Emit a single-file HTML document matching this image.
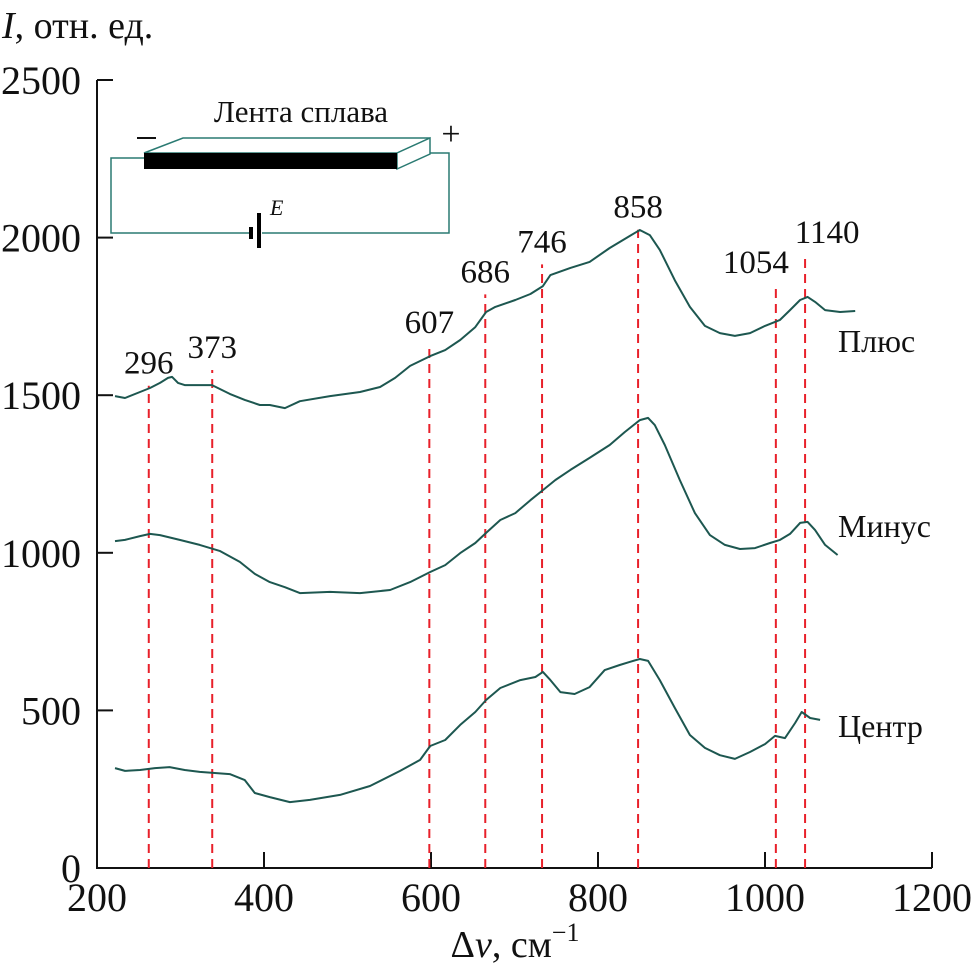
<!DOCTYPE html>
<html><head><meta charset="utf-8"><style>
body{margin:0;background:#fff;}
svg{display:block;font-family:"Liberation Serif",serif;}
</style></head><body>
<svg width="972" height="976" viewBox="0 0 972 976">
<g id="axes"></g>
<g id="peaks"></g>
<g id="series"></g>
<g id="inset">
  <text x="301" y="122" font-size="31" text-anchor="middle" fill="#111">Лента сплава</text>
  <polyline points="144,158 111,158 111,233 250,233" fill="none" stroke="#2a7a72" stroke-width="1.5"/>
  <polyline points="262,233 449,233 449,153 430,153" fill="none" stroke="#2a7a72" stroke-width="1.5"/>
  <polygon points="144,153 183,138 430,138 397,153" fill="#fff" stroke="#2a7a72" stroke-width="1.5"/>
  <polygon points="397,153 430,138 430,154 397,169" fill="#fff" stroke="#2a7a72" stroke-width="1.5"/>
  <rect x="144" y="153" width="253" height="16" fill="#000"/>
  <rect x="249" y="227" width="4" height="12" fill="#000"/>
  <rect x="257" y="213" width="4" height="35" fill="#000"/>
  <text x="270" y="215" font-size="22" font-style="italic" fill="#111">E</text>
  <line x1="137" y1="138" x2="156" y2="138" stroke="#111" stroke-width="2"/>
  <text x="451" y="145" font-size="34" text-anchor="middle" fill="#111">+</text>
</g>
<text x="2" y="38" font-size="38" fill="#111"><tspan font-style="italic">I</tspan>, отн. ед.</text>
<text x="515" y="957" font-size="38" text-anchor="middle" fill="#111">Δ<tspan font-style="italic">v</tspan>, см<tspan font-size="26" dy="-16">−1</tspan></text>
<text x="838" y="352" font-size="32" fill="#111">Плюс</text>
<text x="838" y="537" font-size="32" fill="#111">Минус</text>
<text x="838" y="737" font-size="32" fill="#111">Центр</text>
</svg>
<script>
const xTicks=[200,400,600,800,1000,1200];
const yTicks=[0,500,1000,1500,2000,2500];
const plusX=[221.6,233.5,251.5,263.5,275.5,285,290,297,305,337.7,359,377,395,407,425,443,479,515,539,557,575,599,617,635,653,666,677,701,719,734,743,767,790,814,838,850,862,874,892,910,928,946,964,982,1000,1018,1030,1042,1051,1060,1072,1090,1108];
const plusY=[1497,1491,1510,1523,1539,1555,1558,1539,1532,1532,1504,1485,1469,1469,1459,1481,1497,1510,1526,1555,1593,1624,1643,1675,1716,1764,1780,1802,1821,1846,1881,1904,1923,1967,2005,2024,2008,1961,1865,1780,1720,1697,1688,1697,1720,1739,1770,1802,1812,1796,1770,1764,1767];
const minusX=[221.6,233.5,251.5,263.5,275.5,299,323,347,371,389,407,425,443,479,515,551,575,599,617,635,653,666,683,701,719,734,749,767,790,814,832,850,860,868,880,898,916,934,952,970,988,1006,1018,1030,1042,1051,1060,1072,1087];
const minusY=[1037,1041,1053,1060,1056,1041,1025,1006,971,933,907,891,872,876,872,882,907,939,961,999,1031,1063,1104,1126,1167,1199,1231,1263,1301,1342,1383,1421,1428,1405,1342,1231,1126,1056,1025,1012,1015,1031,1041,1060,1095,1098,1072,1025,993];
const centerX=[221.6,233.5,251.5,269.5,287,305,323,359,377,389,407,431,455,491,527,563,587,599,617,635,653,666,683,707,725,734,743,755,772,790,808,826,838,850,860,874,892,910,928,946,964,982,1000,1012,1024,1036,1044,1054,1066];
const centerY=[317,308,311,317,320,311,305,298,279,238,225,209,216,232,260,308,343,387,406,454,495,533,571,596,606,622,596,558,552,574,628,644,654,663,657,596,508,422,381,358,346,368,393,419,412,460,495,476,470];
const peakPos=[262,338,598,665,733,848,1013,1048];
const peakLabels=["296","373","607","686","746","858","1054","1140"];
const peakTops=[1530,1580,1660,1820,1915,2025,1850,1945];

const NS="http://www.w3.org/2000/svg";
const X0=97,X1=932,Y0=868,Y1=80;
const sx=v=>X0+(v-200)/1000*(X1-X0);
const sy=v=>Y0-v/2500*(Y0-Y1);
function mk(tag,attrs,parent){const e=document.createElementNS(NS,tag);for(const k in attrs)e.setAttribute(k,attrs[k]);parent.appendChild(e);return e;}
const axes=document.getElementById('axes');
let l=mk('line',{x1:X0,y1:Y1,x2:X0,y2:Y0,stroke:'#111','stroke-width':2},axes);


l=mk('line',{x1:X0-1,y1:Y0,x2:X1,y2:Y0,stroke:'#111','stroke-width':2},axes);


xTicks.forEach(v=>{
  const t=mk('line',{x1:sx(v),y1:Y0,x2:sx(v),y2:Y0-16,stroke:'#111','stroke-width':2},axes);
  
  
  const tx=mk('text',{x:sx(v),y:Y0+43,'font-size':40,'text-anchor':'middle',fill:'#111'},axes);
  tx.textContent=v;
  
  
});
yTicks.forEach(v=>{
  const t=mk('line',{x1:X0,y1:sy(v),x2:X0+16,y2:sy(v),stroke:'#111','stroke-width':2},axes);
  
  
  const tx=mk('text',{x:X0-16,y:sy(v)+14,'font-size':40,'text-anchor':'end',fill:'#111'},axes);
  tx.textContent=v;
  
  
});
const peaks=document.getElementById('peaks');
peakPos.forEach((p,i)=>{
  const d=mk('line',{x1:sx(p),y1:Y0,x2:sx(p),y2:sy(peakTops[i]),stroke:'#e8202a','stroke-width':2,'stroke-dasharray':'9,6'},peaks);
  
  
  const tx=mk('text',{x:sx(p)+(i===6?-20:i===7?22:0),y:sy(peakTops[i])-12,'font-size':33,'text-anchor':'middle',fill:'#111'},peaks);
  tx.textContent=peakLabels[i];
  
  
});
const series=document.getElementById('series');
[[plusX,plusY,'plus-spectrum'],[minusX,minusY,'minus-spectrum'],[centerX,centerY,'center-spectrum']].forEach(s=>{
  const pts=s[0].map((x,i)=>sx(x).toFixed(1)+','+sy(s[1][i]).toFixed(1)).join(' ');
  const p=mk('polyline',{points:pts,fill:'none',stroke:'#1d5750','stroke-width':2,'stroke-linejoin':'round'},series);
  
  
});
</script>
</body></html>
